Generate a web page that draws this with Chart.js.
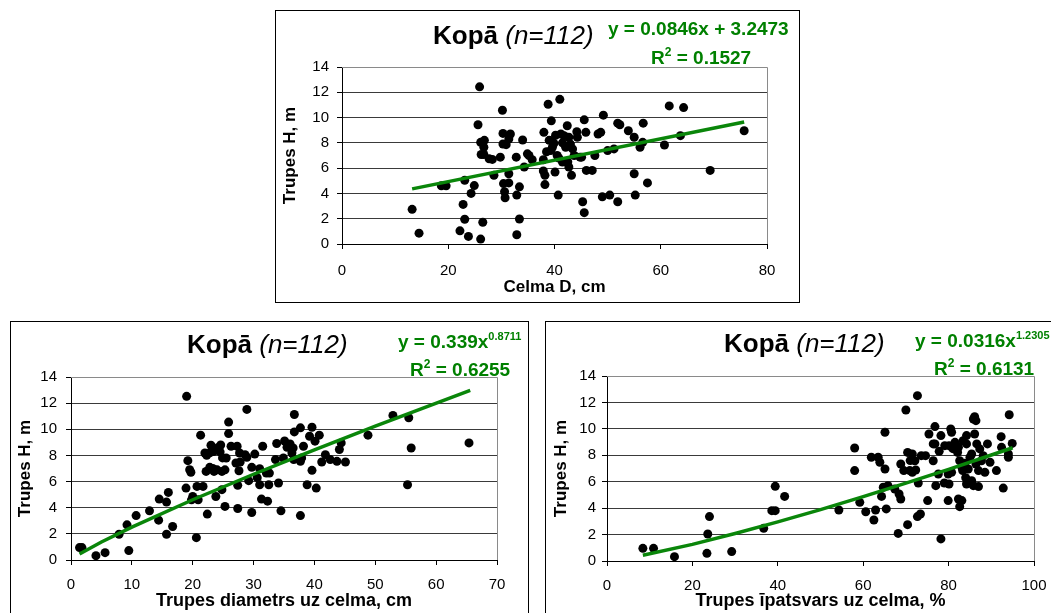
<!DOCTYPE html>
<html><head><meta charset="utf-8">
<script src="https://cdn.jsdelivr.net/npm/chart.js@4/dist/chart.umd.min.js"></script>
<style>
html,body{margin:0;padding:0;background:#fff;overflow:hidden;width:1051px;height:613px;position:relative}
.box{position:absolute;border:1px solid #000;box-sizing:border-box;background:#fff}
canvas{position:absolute}
.ttl{position:absolute;font-family:"Liberation Sans",Arial,sans-serif;font-size:26px;line-height:26px;white-space:nowrap;color:#000}
.ttl b{font-weight:bold}
.ttl i{font-style:italic}
.eq{position:absolute;font-family:"Liberation Sans",Arial,sans-serif;font-weight:bold;color:#008000;font-size:19px;line-height:19px;white-space:nowrap}
.eq sup{font-size:11px;line-height:0;vertical-align:8px}
.eq sup.s2{font-size:12px;vertical-align:8px}
</style>
</head><body>
<div class="box" style="left:275px;top:10px;width:525px;height:293px"></div>
<div class="box" style="left:10px;top:321px;width:519px;height:320px"></div>
<div class="box" style="left:545px;top:321px;width:540px;height:320px"></div>
<canvas id="cTop" width="525" height="293" style="left:275px;top:10px"></canvas>
<canvas id="cBL" width="519" height="300" style="left:10px;top:321px"></canvas>
<canvas id="cBR" width="540" height="300" style="left:545px;top:321px"></canvas>

<div class="ttl" style="left:433px;top:22px"><b>Kopā</b> <i>(n=112)</i></div>
<div class="eq" style="left:608px;top:19px">y = 0.0846x + 3.2473</div>
<div class="eq" style="left:651px;top:48px">R<sup class="s2">2</sup> = 0.1527</div>

<div class="ttl" style="left:187px;top:331px"><b>Kopā</b> <i>(n=112)</i></div>
<div class="eq" style="left:398px;top:332px">y = 0.339x<sup>0.8711</sup></div>
<div class="eq" style="left:410px;top:360px">R<sup class="s2">2</sup> = 0.6255</div>

<div class="ttl" style="left:724px;top:330px"><b>Kopā</b> <i>(n=112)</i></div>
<div class="eq" style="left:915px;top:331px">y = 0.0316x<sup>1.2305</sup></div>
<div class="eq" style="left:934px;top:359px">R<sup class="s2">2</sup> = 0.6131</div>

<script>
// ---- Top chart: Celma D (cm) vs Trupes H (m)
const topD = [
 13.2, 14.5, 18.7, 19.6, 22.2, 22.8, 23.1, 23.1, 23.8, 24.3,
 24.9, 25.6, 25.9, 26.1, 26.1, 26.8, 26.2, 26.7, 26.5, 26.7,
 27.7, 28.3, 28.6, 29.8, 30.2, 30.3, 30.3, 30.9, 30.4, 30.6,
 30.7, 31.4, 31.4, 31.7, 31.4, 32.8, 32.9, 32.9, 33.4, 33.4,
 34.0, 34.3, 34.9, 35.2, 35.8, 37.9, 38.0, 37.9, 38.2, 38.2,
 38.8, 39.4, 39.5, 39.6, 39.3, 39.9, 40.1, 40.5, 40.7, 41.0,
 41.2, 41.8, 41.5, 42.1, 42.4, 42.7, 42.7, 43.2, 43.4, 43.7,
 44.2, 44.3, 44.8, 45.1, 45.3, 45.6, 45.6, 45.9, 46.0, 47.1,
 47.6, 48.2, 48.7, 49.0, 49.2, 50.0, 50.4, 51.2, 51.9, 51.9,
 52.3, 53.9, 55.0, 55.0, 55.2, 56.1, 56.6, 56.7, 57.5, 60.7,
 61.6, 63.7, 64.3, 69.3, 75.7, 39.0, 40.2, 41.5, 43.0, 38.5,
 40.8, 42.5];
const topH = [
 2.74, 0.86, 4.6, 4.6, 1.04, 3.13, 5.04, 1.96, 0.6, 4.0,
 4.62, 9.43, 12.43, 0.39, 8.04, 8.2, 7.08, 7.08, 1.72, 7.65,
 6.74, 6.69, 5.43, 6.87, 10.58, 8.75, 7.91, 7.86, 4.78, 4.13,
 3.66, 4.83, 5.56, 8.7, 8.3, 6.87, 3.87, 0.73, 4.52, 1.98,
 8.23, 6.09, 7.13, 7.0, 6.66, 6.66, 8.83, 5.77, 5.43, 4.7,
 11.05, 9.74, 8.17, 7.65, 7.39, 7.96, 5.69, 7.0, 3.87, 11.44,
 8.7, 8.57, 6.48, 7.65, 9.35, 8.44, 6.09, 5.43, 7.52, 7.0,
 8.88, 8.44, 6.87, 6.87, 3.34, 2.48, 9.82, 8.83, 5.82, 5.82,
 7.0, 8.7, 8.83, 3.73, 10.19, 7.39, 3.87, 7.52, 3.34, 9.56,
 9.43, 8.96, 8.44, 5.56, 3.87, 7.65, 8.04, 9.56, 4.83, 7.83,
 10.92, 8.57, 10.79, 5.82, 8.96, 8.2, 8.6, 8.0, 7.9, 7.3,
 6.8, 6.5];
const topTrendX = [13.2, 75.7];
const topTrendY = [4.36, 9.65];

// ---- Bottom-left: Trupes diametrs uz celma (cm) vs Trupes H (m)
const blD = [
 1.4, 1.8, 4.1, 5.6, 7.9, 9.2, 9.5, 10.7, 12.9, 14.4,
 14.5, 15.7, 15.7, 16.0, 16.7, 19.0, 19.2, 19.5, 19.7, 18.9,
 19.8, 20.0, 20.6, 20.7, 20.9, 21.7, 21.3, 22.0, 22.3, 22.2,
 22.4, 22.8, 23.0, 23.5, 23.8, 24.1, 24.5, 24.9, 24.8, 24.8,
 25.3, 25.9, 25.9, 26.3, 27.1, 27.4, 27.4, 27.6, 27.7, 28.9,
 28.6, 28.9, 29.2, 29.7, 29.7, 31.0, 31.0, 31.3, 31.5, 32.1,
 32.6, 32.5, 33.6, 33.8, 34.1, 34.5, 35.5, 36.0, 36.5, 36.3,
 36.6, 36.7, 36.7, 37.7, 37.9, 37.7, 37.7, 38.2, 38.8, 39.6,
 39.2, 39.6, 40.1, 40.3, 40.8, 41.2, 41.8, 42.6, 43.7, 44.1,
 44.4, 45.1, 48.8, 52.9, 55.5, 55.3, 55.9, 65.4, 22.8, 23.4,
 24.6, 25.5, 23.3, 24.0, 25.3, 27.3, 27.8, 30.2, 30.6, 32.3,
 35.1, 34.9];
const blH = [
 0.95, 0.95, 0.33, 0.56, 1.97, 2.69, 0.72, 3.4, 3.76, 3.05,
 4.66, 4.43, 1.97, 5.17, 2.56, 12.52, 7.6, 6.91, 6.71, 5.5,
 4.6, 4.86, 1.71, 5.63, 4.6, 5.63, 9.55, 8.19, 8.01, 6.78,
 3.51, 7.09, 8.78, 6.78, 4.86, 8.58, 8.27, 7.81, 6.78, 5.38,
 4.1, 10.55, 9.67, 8.7, 7.42, 3.94, 5.71, 6.83, 8.19, 11.52,
 8.06, 7.86, 6.07, 7.09, 3.63, 6.99, 5.76, 4.66, 8.7, 6.65,
 6.65, 5.76, 7.68, 8.91, 5.89, 3.76, 8.63, 8.88, 8.57, 8.19,
 7.68, 11.13, 9.8, 7.55, 7.81, 3.4, 10.11, 8.7, 5.76, 10.16,
 9.47, 6.86, 9.09, 5.5, 9.55, 7.5, 8.06, 7.68, 7.55, 8.45,
 8.96, 7.5, 9.55, 11.06, 10.88, 5.76, 8.57, 8.96, 8.2, 8.3,
 8.8, 7.8, 7.0, 6.9, 6.9, 8.7, 7.5, 8.1, 6.3, 4.5,
 9.1, 7.8];
const blTrendX = [1.4, 5, 10, 20, 30, 40, 50, 65.6];
const blTrendY = [0.46, 1.38, 2.52, 4.61, 6.56, 8.43, 10.24, 12.97];

// ---- Bottom-right: Trupes īpatsvars uz celma (%) vs Trupes H (m)
const brP = [
 8.4, 10.9, 15.8, 23.4, 23.6, 24.0, 29.2, 36.7, 38.6, 39.4,
 39.4, 41.6, 54.3, 58.0, 58.0, 59.2, 60.6, 61.9, 63.5, 62.5,
 62.9, 63.9, 64.3, 64.7, 65.1, 65.1, 65.4, 65.8, 67.4, 68.2,
 68.4, 68.8, 68.8, 69.5, 70.0, 70.4, 70.4, 70.9, 71.5, 71.5,
 72.1, 72.3, 72.7, 72.9, 72.7, 73.4, 73.6, 74.6, 75.1, 75.4,
 76.4, 76.8, 76.4, 76.8, 77.0, 77.6, 78.2, 78.2, 79.1, 79.9,
 80.1, 79.9, 80.1, 80.5, 80.7, 80.7, 81.5, 82.3, 82.1, 82.3,
 83.1, 82.6, 82.6, 83.1, 83.3, 83.4, 84.2, 84.2, 84.2, 84.6,
 85.0, 85.4, 85.4, 85.8, 86.1, 86.4, 86.1, 85.8, 87.0, 86.4,
 87.0, 86.6, 87.3, 87.7, 88.1, 88.5, 89.1, 89.7, 91.2, 92.3,
 92.4, 92.8, 94.0, 94.0, 94.2, 94.9, 81.0, 83.8, 79.0, 84.0,
 71.0, 77.8];
const brH = [
 0.96, 0.96, 0.33, 0.58, 2.04, 3.36, 0.71, 2.47, 3.81, 3.81,
 5.65, 4.89, 3.86, 8.55, 6.84, 4.44, 3.73, 7.85, 7.85, 3.1,
 3.86, 7.47, 4.89, 5.58, 6.96, 9.74, 3.94, 5.7, 5.45, 2.09,
 5.07, 4.69, 7.34, 6.84, 11.43, 8.22, 2.75, 6.84, 6.71, 8.1,
 7.59, 6.89, 12.51, 5.9, 3.36, 3.56, 7.97, 7.97, 4.57, 9.61,
 8.86, 8.86, 7.59, 10.17, 5.7, 6.58, 9.49, 1.67, 8.73, 6.58,
 5.83, 4.57, 8.73, 9.99, 9.74, 6.71, 8.98, 8.6, 8.22, 4.69,
 4.57, 4.11, 7.59, 7.09, 6.84, 9.1, 8.86, 9.49, 5.83, 6.96,
 7.85, 8.1, 6.08, 10.75, 10.92, 10.62, 9.61, 5.7, 5.63, 7.34,
 6.84, 8.86, 8.48, 7.59, 7.97, 6.71, 8.86, 7.47, 6.84, 9.41,
 8.6, 5.52, 8.1, 7.85, 11.07, 8.9, 8.5, 7.4, 5.9, 6.3,
 7.6, 8.3];
const brTrendX = [8.4, 20, 30, 40, 50, 60, 70, 80, 90, 95];
const brTrendY = [0.43, 1.26, 2.08, 2.96, 3.89, 4.87, 5.89, 6.94, 8.02, 8.57];

const yTitle = 'Trupes H, m';
const FONT = '"Liberation Sans", Arial, sans-serif';
const GREEN = '#0a860a';

function pts(xs, ys) { return xs.map((x, i) => ({ x: x, y: ys[i] })); }

const framePlugin = {
  id: 'frame',
  beforeDatasetsDraw(chart) {
    const a = chart.chartArea, c = chart.ctx;
    c.save();
    c.strokeStyle = '#8a8a8a';
    c.lineWidth = 1;
    c.beginPath();
    c.moveTo(a.left, a.top + 0.5);
    c.lineTo(a.right + 0.5, a.top + 0.5);
    c.lineTo(a.right + 0.5, a.bottom);
    c.stroke();
    c.restore();
  }
};

function makeChart(id, xs, ys, tx, ty, o) {
  return new Chart(document.getElementById(id), {
    type: 'scatter',
    data: { datasets: [
      { data: pts(tx, ty), showLine: true, borderColor: GREEN, borderWidth: 3.5,
        pointRadius: 0, fill: false, tension: 0, order: 0 },
      { data: pts(xs, ys), backgroundColor: '#000', borderWidth: 0,
        pointRadius: 4.5, order: 1 }
    ]},
    options: {
      responsive: false, animation: false, events: [],
      layout: { padding: { top: o.padTop, right: o.padRight, left: 0, bottom: 0 } },
      plugins: { legend: { display: false }, tooltip: { enabled: false } },
      scales: {
        x: {
          type: 'linear', min: 0, max: o.xMax,
          ticks: { stepSize: o.xStep, color: '#000', font: { family: FONT, size: 15 },
                   padding: o.xTickPad, maxRotation: 0, autoSkip: false },
          grid: { drawOnChartArea: false, drawTicks: true, tickLength: 5, color: '#000' },
          border: { color: '#000', width: 1 },
          title: { display: true, text: o.xTitle, color: '#000',
                   font: { family: FONT, size: o.xTitleSize, weight: 'bold' },
                   padding: { top: 0, bottom: o.xTitlePad } },
          afterFit(s) { s.height = o.xH; }
        },
        y: {
          min: 0, max: 14,
          ticks: { stepSize: 2, color: '#000', font: { family: FONT, size: 15 }, padding: o.yTickPad },
          grid: { color: '#3a3a3a', lineWidth: 1, drawTicks: true, tickLength: 5, tickColor: '#000' },
          border: { color: '#000', width: 1 },
          title: { display: true, text: yTitle, color: '#000',
                   font: { family: FONT, size: 17, weight: 'bold' },
                   padding: { top: o.yTitlePad, bottom: 0 } },
          afterFit(s) { s.width = o.yW; }
        }
      }
    },
    plugins: [framePlugin]
  });
}

makeChart('cTop', topD, topH, topTrendX, topTrendY, {
  padTop: 57, padRight: 33, xMax: 80, xStep: 20, xTickPad: 13,
  xTitle: 'Celma D, cm', xTitleSize: 17, xTitlePad: 5, xH: 59,
  yTickPad: 8, yTitlePad: 5, yW: 67
});
makeChart('cBL', blD, blH, blTrendX, blTrendY, {
  padTop: 56, padRight: 32, xMax: 70, xStep: 10, xTickPad: 11,
  xTitle: 'Trupes diametrs uz celma, cm', xTitleSize: 18, xTitlePad: 9, xH: 61,
  yTickPad: 9, yTitlePad: 5, yW: 61
});
makeChart('cBR', brP, brH, brTrendX, brTrendY, {
  padTop: 55, padRight: 51, xMax: 100, xStep: 20, xTickPad: 11,
  xTitle: 'Trupes īpatsvars uz celma, %', xTitleSize: 18, xTitlePad: 9, xH: 60,
  yTickPad: 6, yTitlePad: 6, yW: 62
});
</script>
</body></html>
